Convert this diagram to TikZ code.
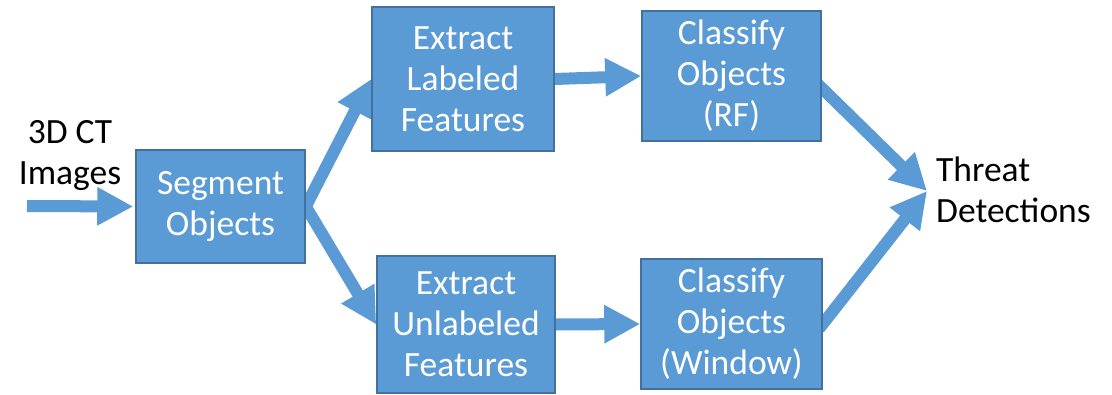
\documentclass[tikz,border=0pt]{standalone}
\usepackage{fontspec}
\setmainfont{Carlito}
\usetikzlibrary{arrows.meta,backgrounds}

\definecolor{boxblue}{HTML}{5B9BD5}
\definecolor{boxedge}{HTML}{41719C}

\begin{document}
\begin{tikzpicture}[
			x=1pt, y=-1pt,
			font=\fontsize{35.5}{41}\selectfont,
			stage/.style={
				rectangle, draw=boxedge, line width=1.5pt,
				fill=boxblue, text=white,
				align=center, inner sep=0pt
			},
			flow/.style={
				-{Triangle[length=36pt,width=36pt]},
				line width=12pt, draw=boxblue
			},
			lbl/.style={align=center, inner sep=0pt}
			]
			
			\useasboundingbox (0,0) rectangle (1112,394);
			
			%% ── Input and first stage ───────────────────────────────────────────
			\node[lbl] (input) at (70, 156) {3D CT\\Images};
			\coordinate (feed) at (27, 206);
			\node[stage, minimum width=169pt, minimum height=113pt] (segment) at (220.5, 206.5) {Segment\\Objects};
			
			%% ── Feature extraction (middle column) ──────────────────────────────
			\node[stage, minimum width=182pt, minimum height=144pt] (labfeat) at (463, 79) {Extract\\Labeled\\Features};
			\node[stage, minimum width=178pt, minimum height=137pt] (unlfeat) at (466, 324.5) {Extract\\Unlabeled\\Features};
			
			%% ── Classifiers (right column) ──────────────────────────────────────
			\node[stage, minimum width=179pt, minimum height=130pt] (clsrf)  at (731.5, 76) {Classify\\Objects\\(RF)};
			\node[stage, minimum width=181pt, minimum height=130pt] (clswin) at (731.5, 324) {Classify\\Objects\\(Window)};
			
			%% ── Output ──────────────────────────────────────────────────────────
			\coordinate (merge) at (927, 191);
			\node[lbl, anchor=west, align=left] (threat) at (936, 190) {Threat\\Detections};
			
			%% ── Connectors (behind the boxes) ───────────────────────────────────
			\begin{scope}[on background layer]
				\draw[flow, shorten >=2pt] (feed) -- (segment.west);
				\draw[flow, shorten <=-8pt] (segment.east) -- (labfeat.west);
				\draw[flow, shorten <=-8pt] (segment.east) -- (unlfeat.west);
				\draw[flow] (labfeat.east) -- (clsrf.west);
				\draw[flow] (unlfeat.east) -- (clswin.west);
				\draw[flow, shorten <=-6pt] ([yshift=-12pt]clsrf.east) -- (merge);
				\draw[flow, shorten <=-6pt] (clswin.east) -- (merge);
			\end{scope}
			
		\end{tikzpicture}
\end{document}
